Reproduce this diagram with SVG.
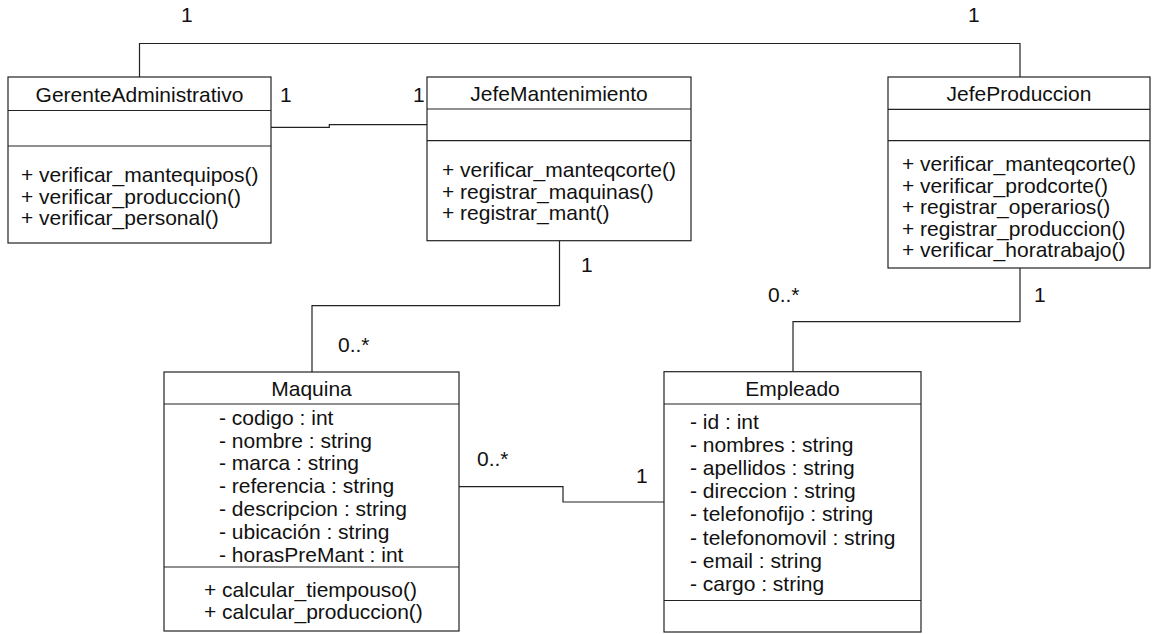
<svg xmlns="http://www.w3.org/2000/svg" width="1155" height="634" viewBox="0 0 1155 634">
<style>
.box{fill:#fff;stroke:#222;stroke-width:1.2}
.div{stroke:#222;stroke-width:1.2}
.t{font-family:"Liberation Sans",Arial,sans-serif;font-size:21px;fill:#111}
.c{text-anchor:middle}
.ln{fill:none;stroke:#222;stroke-width:1.2}
</style>
<rect width="1155" height="634" fill="#fff"/>
<g id="connectors">
<polyline class="ln" points="139.5,77 139.5,43.5 1020,43.5 1020,77"/>
<polyline class="ln" points="271,127.3 329.3,127.3 329.3,124.7 427,124.7"/>
<polyline class="ln" points="559.5,240.7 559.5,305.7 312,305.7 312,372"/>
<polyline class="ln" points="1020,268 1020,321.7 793,321.7 793,371.7"/>
<polyline class="ln" points="459,486.7 563,486.7 563,502 664,502"/>
<text class="t" x="181" y="22">1</text>
<text class="t" x="968" y="22">1</text>
<text class="t" x="280" y="102">1</text>
<text class="t" x="413" y="102">1</text>
<text class="t" x="581" y="272">1</text>
<text class="t" x="338" y="352">0..*</text>
<text class="t" x="1034" y="302">1</text>
<text class="t" x="768" y="302">0..*</text>
<text class="t" x="477" y="466">0..*</text>
<text class="t" x="636" y="483">1</text>
</g>
<g id="GerenteAdministrativo">
<rect class="box" x="8" y="77" width="263" height="166"/>
<line class="div" x1="8" y1="110.5" x2="271" y2="110.5"/>
<line class="div" x1="8" y1="146" x2="271" y2="146"/>
<text class="t c" x="139.5" y="102">GerenteAdministrativo</text>
<text class="t" x="21" y="182">+ verificar_mantequipos()</text>
<text class="t" x="21" y="203.5">+ verificar_produccion()</text>
<text class="t" x="21" y="225">+ verificar_personal()</text>
</g>
<g id="JefeMantenimiento">
<rect class="box" x="427" y="77" width="264" height="163.7"/>
<line class="div" x1="427" y1="109" x2="691" y2="109"/>
<line class="div" x1="427" y1="140.7" x2="691" y2="140.7"/>
<text class="t c" x="559" y="101">JefeMantenimiento</text>
<text class="t" x="442" y="177">+ verificar_manteqcorte()</text>
<text class="t" x="442" y="198.5">+ registrar_maquinas()</text>
<text class="t" x="442" y="220">+ registrar_mant()</text>
</g>
<g id="JefeProduccion">
<rect class="box" x="888" y="77" width="262" height="191"/>
<line class="div" x1="888" y1="109.3" x2="1150" y2="109.3"/>
<line class="div" x1="888" y1="140.7" x2="1150" y2="140.7"/>
<text class="t c" x="1019" y="101">JefeProduccion</text>
<text class="t" x="902" y="171">+ verificar_manteqcorte()</text>
<text class="t" x="902" y="192.5">+ verificar_prodcorte()</text>
<text class="t" x="902" y="214">+ registrar_operarios()</text>
<text class="t" x="902" y="235.5">+ registrar_produccion()</text>
<text class="t" x="902" y="257">+ verificar_horatrabajo()</text>
</g>
<g id="Maquina">
<rect class="box" x="164" y="372" width="295" height="259"/>
<line class="div" x1="164" y1="404" x2="459" y2="404"/>
<line class="div" x1="164" y1="567" x2="459" y2="567"/>
<text class="t c" x="311.5" y="396">Maquina</text>
<text class="t" x="219" y="424.5">- codigo : int</text>
<text class="t" x="219" y="447.5">- nombre : string</text>
<text class="t" x="219" y="469.5">- marca : string</text>
<text class="t" x="219" y="492.5">- referencia : string</text>
<text class="t" x="219" y="515.5">- descripcion : string</text>
<text class="t" x="219" y="538.5">- ubicación : string</text>
<text class="t" x="219" y="562">- horasPreMant : int</text>
<text class="t" x="204" y="597">+ calcular_tiempouso()</text>
<text class="t" x="204" y="618.5">+ calcular_produccion()</text>
</g>
<g id="Empleado">
<rect class="box" x="664" y="371.7" width="257" height="260.3"/>
<line class="div" x1="664" y1="404" x2="921" y2="404"/>
<line class="div" x1="664" y1="600.5" x2="921" y2="600.5"/>
<text class="t c" x="792.5" y="396">Empleado</text>
<text class="t" x="690" y="429">- id : int</text>
<text class="t" x="690" y="452">- nombres : string</text>
<text class="t" x="690" y="475">- apellidos : string</text>
<text class="t" x="690" y="498">- direccion : string</text>
<text class="t" x="690" y="521">- telefonofijo : string</text>
<text class="t" x="690" y="544.5">- telefonomovil : string</text>
<text class="t" x="690" y="567.5">- email : string</text>
<text class="t" x="690" y="591">- cargo : string</text>
</g>
</svg>
